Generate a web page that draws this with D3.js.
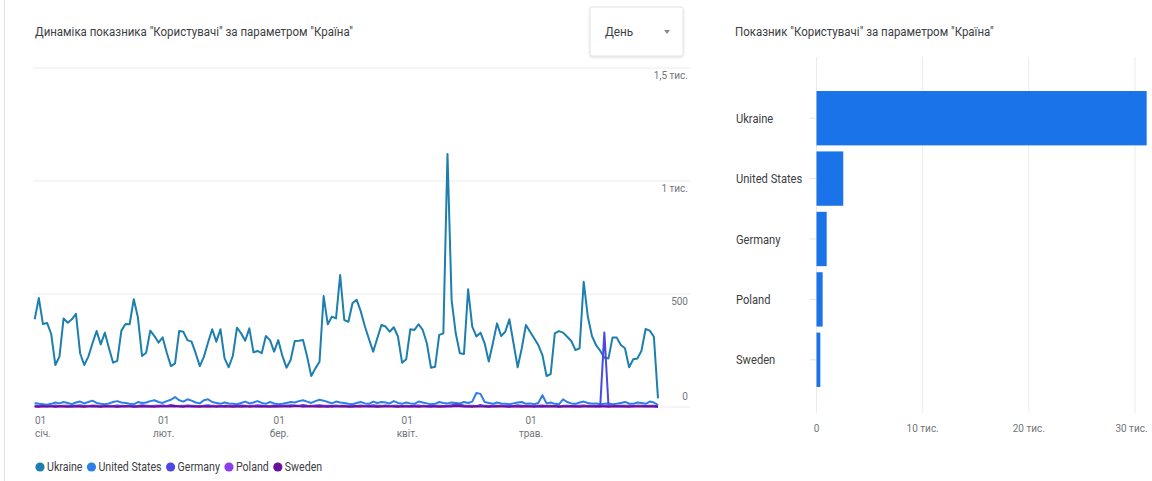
<!DOCTYPE html>
<html lang="uk">
<head>
<meta charset="UTF-8">
<title>Користувачі за параметром Країна</title>
<script src="https://d3js.org/d3.v7.min.js"></script>
<style>
  body { margin: 0; background: #fff; }
  svg text { font-family: Roboto, "Noto Sans", Arial, sans-serif; }
</style>
</head>
<body>
<svg id="chart" width="1152" height="481"></svg>
<script>
// ---- data ----
const countries = ["Ukraine", "United States", "Germany", "Poland", "Sweden"];
const totals = [31100, 2520, 960, 580, 360];
const seriesColors = ["#1c7fad", "#2d7fe6", "#4a4ae2", "#8b3ee9", "#6a0f9e"];

const ukraine = [
  388,482,367,372,323,186,223,392,373,388,412,238,186,223,282,336,277,329,260,196,
  204,338,367,366,477,397,226,240,338,314,285,308,240,181,193,336,333,296,
  289,238,181,223,285,344,289,344,215,176,226,351,326,293,348,242,248,238,314,296,
  245,296,226,174,208,292,293,296,223,137,171,200,491,366,400,392,584,385,
  377,460,474,423,356,300,245,304,363,356,333,353,312,196,211,344,341,366,341,282,
  174,178,319,326,1120,474,326,238,235,521,356,312,329,282,201,282,370,
  314,333,388,282,176,260,363,333,304,274,230,137,146,326,336,329,311,292,252,260,
  554,400,314,274,249,218,215,308,307,274,260,176,211,215,249,345,338,311,38
];
const unitedStates = [
  18,14,12,10,14,20,16,22,18,12, 20,24,16,22,28,18,14,12,16,22,
  26,20,18,14,12,22,18,20,26,30, 22,18,26,32,44,30,24,34,28,20,
  16,30,34,22,18,14,20,16,14,12, 18,24,16,20,26,18,14,22,16,12,
  14,18,22,20,26,30,24,18,26,32, 28,22,16,24,20,18,14,12,18,22,
  16,14,24,18,22,20,16,26,18,14, 20,16,14,24,20,16,12,14,22,18,
  16,20,18,16,22,18,24,62,58,22, 18,14,20,16,14,12,16,20,22,14,
  16,12,18,52,16,20,14,12,34,22, 16,14,20,24,18,14,16,12,14,16,
  12,14,18,22,16,14,20,18,14,24, 20,8
];
const germany = [
  5,4,6,3,5,7,4,6,5,3, 6,8,5,4,7,6,3,5,6,4, 7,5,4,6,3,5,8,6,4,5,
  6,7,5,9,6,4,5,7,6,4, 3,6,8,5,4,3,5,6,4,5, 7,6,4,5,8,6,3,5,7,4,
  5,6,8,7,5,9,6,4,7,8, 6,5,4,7,5,6,4,3,5,7, 4,5,8,6,5,7,4,6,5,3,
  5,4,6,7,5,4,3,5,6,4, 5,8,12,10,7,5,6,4,9,5, 4,6,5,7,4,3,5,8,6,4,
  5,3,6,7,5,6,4,3,5,6, 4,5,6,7,5,4,6,3,330,8, 5,4,6,5,7,4,5,6,4,5, 6,3
];
const poland = [
  3,2,4,3,5,2,3,4,3,2, 4,3,2,5,3,4,2,3,4,3, 2,4,3,5,3,2,4,3,2,4,
  3,5,4,3,2,4,3,5,3,2, 4,3,2,3,5,4,2,3,4,3, 2,3,5,4,3,2,4,3,2,3,
  4,5,3,4,6,3,4,5,3,2, 3,4,2,5,3,4,3,2,4,3, 5,3,4,2,3,4,5,3,2,4,
  3,2,4,3,5,3,2,4,3,2, 4,5,6,4,3,2,4,3,5,3, 2,4,3,5,3,2,4,3,2,4,
  3,5,3,2,4,3,4,2,3,4, 3,2,4,5,3,4,2,3,6,5, 3,4,3,2,4,3,5,4,3,4, 3,1
];
const sweden = [
  2,1,3,2,2,1,3,2,1,2, 3,2,1,2,3,2,1,3,2,2, 1,2,3,2,1,2,3,2,2,1,
  3,2,2,3,4,2,1,3,2,2, 1,3,2,2,1,2,3,2,1,2, 2,3,1,2,2,3,2,1,3,2,
  2,3,2,4,3,2,3,2,2,3, 2,1,3,2,2,3,1,2,3,2, 2,3,2,1,2,3,2,2,1,3,
  2,2,3,1,2,2,3,2,1,2, 3,2,4,3,2,2,1,3,2,2, 1,2,3,2,2,1,3,2,2,3,
  2,1,2,3,2,2,3,1,2,2, 3,2,1,2,3,2,2,3,2,1, 2,3,2,2,1,3,2,2,3,2, 2,1
];

const startDate = new Date(2023, 0, 1);
const endDate = new Date(2023, 5, 1);
const monthTicks = [new Date(2023,0,1), new Date(2023,1,1), new Date(2023,2,1), new Date(2023,3,1), new Date(2023,4,1)];
const monthLabels = ["січ.", "лют.", "бер.", "квіт.", "трав."];
const lineTicks = [0, 500, 1000, 1500];
const lineTickLabels = ["0", "500", "1 тис.", "1,5 тис."];
const barTicks = [0, 10000, 20000, 30000];
const barTickLabels = ["0", "10 тис.", "20 тис.", "30 тис."];

// ---- drawing ----
const svg = d3.select("#chart");
const K = 0.87; // text in the screenshot is narrow

// squeeze each text horizontally, keep the new width on the node
function condense(sel) {
  sel.each(function() {
    const w = this.getComputedTextLength() * K;
    this.__w = w;
    d3.select(this).attr("textLength", w).attr("lengthAdjust", "spacingAndGlyphs");
  });
  return sel;
}

// card border
svg.append("line").attr("x1", 4.5).attr("x2", 4.5).attr("y1", 0).attr("y2", 481)
  .attr("stroke", "#e3e3e3");

// titles
condense(svg.append("text").attr("x", 35).attr("y", 36).attr("font-size", 13.2).attr("fill", "#3c4043")
  .text('Динаміка показника "Користувачі" за параметром "Країна"'));
condense(svg.append("text").attr("x", 735).attr("y", 36).attr("font-size", 13.2).attr("fill", "#3c4043")
  .text('Показник "Користувачі" за параметром "Країна"'));

// dropdown
const defs = svg.append("defs");
const f = defs.append("filter").attr("id", "shadow").attr("x", "-10%").attr("y", "-10%").attr("width", "130%").attr("height", "140%");
f.append("feDropShadow").attr("dx", 0).attr("dy", 1).attr("stdDeviation", 1.2).attr("flood-color", "#000").attr("flood-opacity", 0.15);
svg.append("rect").attr("x", 590).attr("y", 7).attr("width", 93).attr("height", 49).attr("rx", 2)
  .attr("fill", "#fff").attr("stroke", "#e2e2e2").attr("filter", "url(#shadow)");
condense(svg.append("text").attr("x", 605).attr("y", 36).attr("font-size", 13.5).attr("fill", "#3c4043").text("День"));
svg.append("path").attr("d", "M664,30 L670,30 L667,34 Z").attr("fill", "#8a8a8a");

// ---- line chart ----
const x = d3.scaleTime().domain([startDate, endDate]).range([34.7, 658]);
const y = d3.scaleLinear().domain([0, 1500]).range([407, 68]);

svg.append("g").selectAll("line").data(lineTicks).join("line")
  .attr("x1", 33).attr("x2", 690)
  .attr("y1", d => y(d)).attr("y2", d => y(d))
  .attr("stroke", "#ebebeb");

condense(svg.append("g").selectAll("text").data(lineTicks).join("text")
  .attr("x", 688).attr("y", d => d === 0 ? y(d) - 7 : y(d) + 11)
  .attr("text-anchor", "end").attr("font-size", 11.5).attr("fill", "#70757a")
  .text((d, i) => lineTickLabels[i]));

const xg = svg.append("g");
monthTicks.forEach((d, i) => {
  const anchor = i === 0 ? "start" : "middle";
  const px = i === 0 ? 35 : x(d) + 1;
  condense(xg.append("text").attr("x", px).attr("y", 424).attr("text-anchor", anchor)
    .attr("font-size", 11.5).attr("fill", "#70757a").text("01"));
  condense(xg.append("text").attr("x", px).attr("y", 437).attr("text-anchor", anchor)
    .attr("font-size", 11.5).attr("fill", "#70757a").text(monthLabels[i]));
});

const allSeries = [ukraine, unitedStates, germany, poland, sweden];
const line = d3.line()
  .x((d, i) => x(d3.timeDay.offset(startDate, i)))
  .y(d => y(d));

svg.append("g").selectAll("path").data(allSeries).join("path")
  .attr("d", line)
  .attr("fill", "none")
  .attr("stroke", (d, i) => seriesColors[i])
  .attr("stroke-width", 2)
  .attr("stroke-linejoin", "round");

// legend
const lg = svg.append("g");
let lx = 40;
countries.forEach((c, i) => {
  lg.append("circle").attr("cx", lx).attr("cy", 467).attr("r", 4.6).attr("fill", seriesColors[i]);
  const t = condense(lg.append("text").attr("x", lx + 7).attr("y", 471)
    .attr("font-size", 12.2).attr("fill", "#3c4043").text(c));
  lx = lx + 7 + t.node().__w + 9;
});

// ---- bar chart ----
const bx = d3.scaleLinear().domain([0, 30000]).range([816.5, 1135]);
const by = d3.scaleBand().domain(countries).range([88, 390]).paddingInner(0.1).paddingOuter(0.05);

svg.append("g").selectAll("line").data(barTicks).join("line")
  .attr("x1", d => bx(d)).attr("x2", d => bx(d))
  .attr("y1", 57).attr("y2", 413)
  .attr("stroke", "#ebebeb");

svg.append("g").selectAll("line").data(countries).join("line")
  .attr("x1", 810).attr("x2", 816.5)
  .attr("y1", d => by(d) + by.bandwidth() / 2).attr("y2", d => by(d) + by.bandwidth() / 2)
  .attr("stroke", "#e3e3e3");

svg.append("g").selectAll("rect").data(countries).join("rect")
  .attr("x", bx(0)).attr("y", d => by(d))
  .attr("width", (d, i) => bx(totals[i]) - bx(0))
  .attr("height", by.bandwidth())
  .attr("fill", "#1a73e8");

condense(svg.append("g").selectAll("text").data(countries).join("text")
  .attr("x", 736).attr("y", d => by(d) + by.bandwidth() / 2 + 4.5)
  .attr("font-size", 12.8).attr("fill", "#3c4043")
  .text(d => d));

condense(svg.append("g").selectAll("text").data(barTicks).join("text")
  .attr("x", (d, i) => i === barTicks.length - 1 ? bx(d) - 3.5 : bx(d)).attr("y", 432)
  .attr("text-anchor", "middle").attr("font-size", 11.5).attr("fill", "#70757a")
  .text((d, i) => barTickLabels[i]));
</script>
</body>
</html>
